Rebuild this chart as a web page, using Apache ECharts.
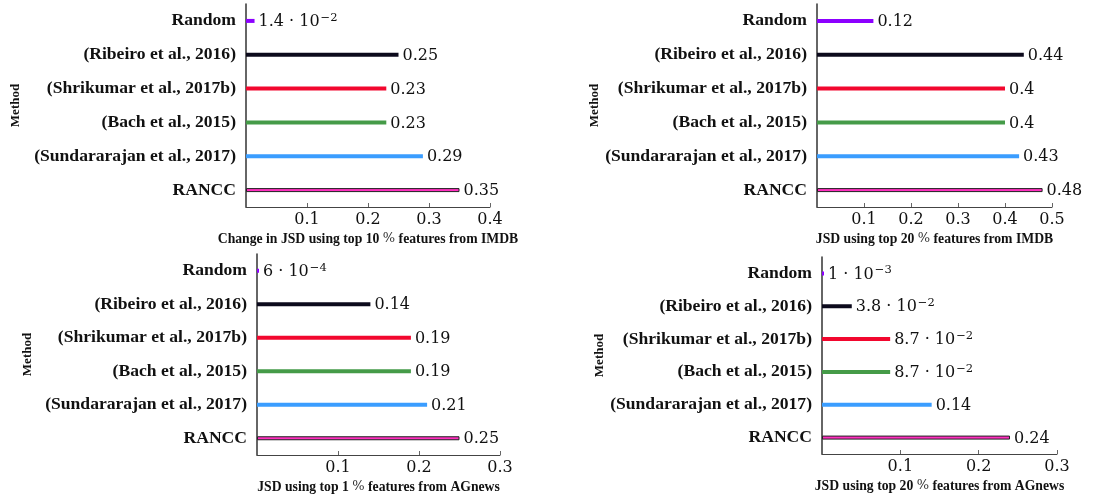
<!DOCTYPE html>
<html>
<head>
<meta charset="utf-8">
<script src="https://cdn.jsdelivr.net/npm/echarts@6/dist/echarts.min.js"></script>
<style>
  html, body { margin: 0; padding: 0; background: #fff; }
  #chart { width: 1102px; height: 499px; }
</style>
</head>
<body>
<div id="chart"></div>
<script>
// Methods, top to bottom
const methods = [
  'Random',
  '(Ribeiro et al., 2016)',
  '(Shrikumar et al., 2017b)',
  '(Bach et al., 2015)',
  '(Sundararajan et al., 2017)',
  'RANCC'
];

// JSD scores per method for each setting
const imdbTop10 = [0.014, 0.25, 0.23, 0.23, 0.29, 0.35];
const imdbTop20 = [0.12, 0.44, 0.40, 0.40, 0.43, 0.48];
const agnewsTop1 = [0.0006, 0.14, 0.19, 0.19, 0.21, 0.25];
const agnewsTop20 = [0.001, 0.038, 0.087, 0.087, 0.14, 0.24];

// X-axis titles and upper limits
const axisTitles = [
  'Change in JSD using top 10 % features from IMDB',
  'JSD using top 20 % features from IMDB',
  'JSD using top 1 % features from AGnews',
  'JSD using top 20 % features from AGnews'
];
const axisMax = [0.4, 0.5, 0.3, 0.3];

const methodColors = ['#8c00ff', '#0c0a1c', '#f2072e', '#459b48', '#3a9dff', '#ff2fbf'];

const panels = [
  { values: imdbTop10, grid: { left: 246, top: 4, width: 244, height: 203 }, nameGap: 224 },
  { values: imdbTop20, grid: { left: 817, top: 4, width: 235, height: 203 }, nameGap: 215 },
  { values: agnewsTop1, grid: { left: 257, top: 254, width: 243, height: 201 }, nameGap: 223 },
  { values: agnewsTop20, grid: { left: 822, top: 257, width: 235, height: 197 }, nameGap: 215 }
];

const SERIF = '"Liberation Serif", "DejaVu Serif", serif';
const MATH = '"DejaVu Serif", serif';

// pgfplots-style number: small values in scientific notation
function valueLabel(v) {
  if (v >= 0.1) return '{n|' + String(v) + '}';
  const e = Math.floor(Math.log10(v));
  const m = +(v / Math.pow(10, e)).toFixed(1);
  return '{n|' + m + ' · 10}{s|−' + (-e) + '}';
}

function titleRich(t) {
  const parts = t.split('%');
  return '{t|' + parts[0] + '}{p|%}{t|' + parts[1] + '}';
}

const grids = [], xAxes = [], yAxes = [], series = [];
panels.forEach((p, i) => {
  grids.push(Object.assign({}, p.grid));
  xAxes.push({
    type: 'value',
    gridIndex: i,
    min: 0,
    max: axisMax[i],
    interval: 0.1,
    splitLine: { show: false },
    axisLine: { show: true, lineStyle: { color: '#444', width: 1 } },
    axisTick: { show: true, inside: true, length: 4, lineStyle: { color: '#666' } },
    axisLabel: {
      showMinLabel: false,
      margin: 5,
      color: '#111',
      fontFamily: MATH,
      fontSize: 16,
      formatter: v => String(+v.toFixed(1))
    },
    name: titleRich(axisTitles[i]),
    nameLocation: 'middle',
    nameGap: 25,
    nameTextStyle: {
      rich: {
        t: { fontFamily: SERIF, fontWeight: 'bold', fontSize: 13.7, color: '#111' },
        p: { fontFamily: MATH, fontSize: 13, color: '#333' }
      }
    }
  });
  yAxes.push({
    type: 'category',
    gridIndex: i,
    data: methods,
    inverse: true,
    axisLine: { show: true, lineStyle: { color: '#333', width: 1.5 } },
    axisTick: { show: false },
    axisLabel: {
      margin: 10,
      color: '#111',
      fontFamily: SERIF,
      fontWeight: 'bold',
      fontSize: 17.6
    },
    name: 'Method',
    nameLocation: 'middle',
    nameGap: p.nameGap,
    nameRotate: 90,
    nameTextStyle: { fontFamily: SERIF, fontWeight: 'bold', fontSize: 13, color: '#111' }
  });
  series.push({
    type: 'bar',
    xAxisIndex: i,
    yAxisIndex: i,
    barWidth: 4,
    barMinHeight: 2,
    data: p.values.map((v, k) => ({
      value: v,
      itemStyle: k === methods.length - 1
        ? { color: methodColors[k], borderColor: '#222', borderWidth: 1 }
        : { color: methodColors[k] }
    })),
    label: {
      show: true,
      position: 'right',
      distance: 4,
      formatter: d => valueLabel(d.value),
      rich: {
        n: { fontFamily: MATH, fontSize: 16, color: '#111', lineHeight: 18, verticalAlign: 'bottom' },
        s: { fontFamily: MATH, fontSize: 11.5, color: '#111', lineHeight: 18, verticalAlign: 'top', padding: [0, 0, 0, 1] }
      }
    }
  });
});

const chart = echarts.init(document.getElementById('chart'), null, { renderer: 'canvas' });
chart.setOption({
  animation: false,
  backgroundColor: '#fff',
  grid: grids,
  xAxis: xAxes,
  yAxis: yAxes,
  series: series
});
</script>
</body>
</html>
